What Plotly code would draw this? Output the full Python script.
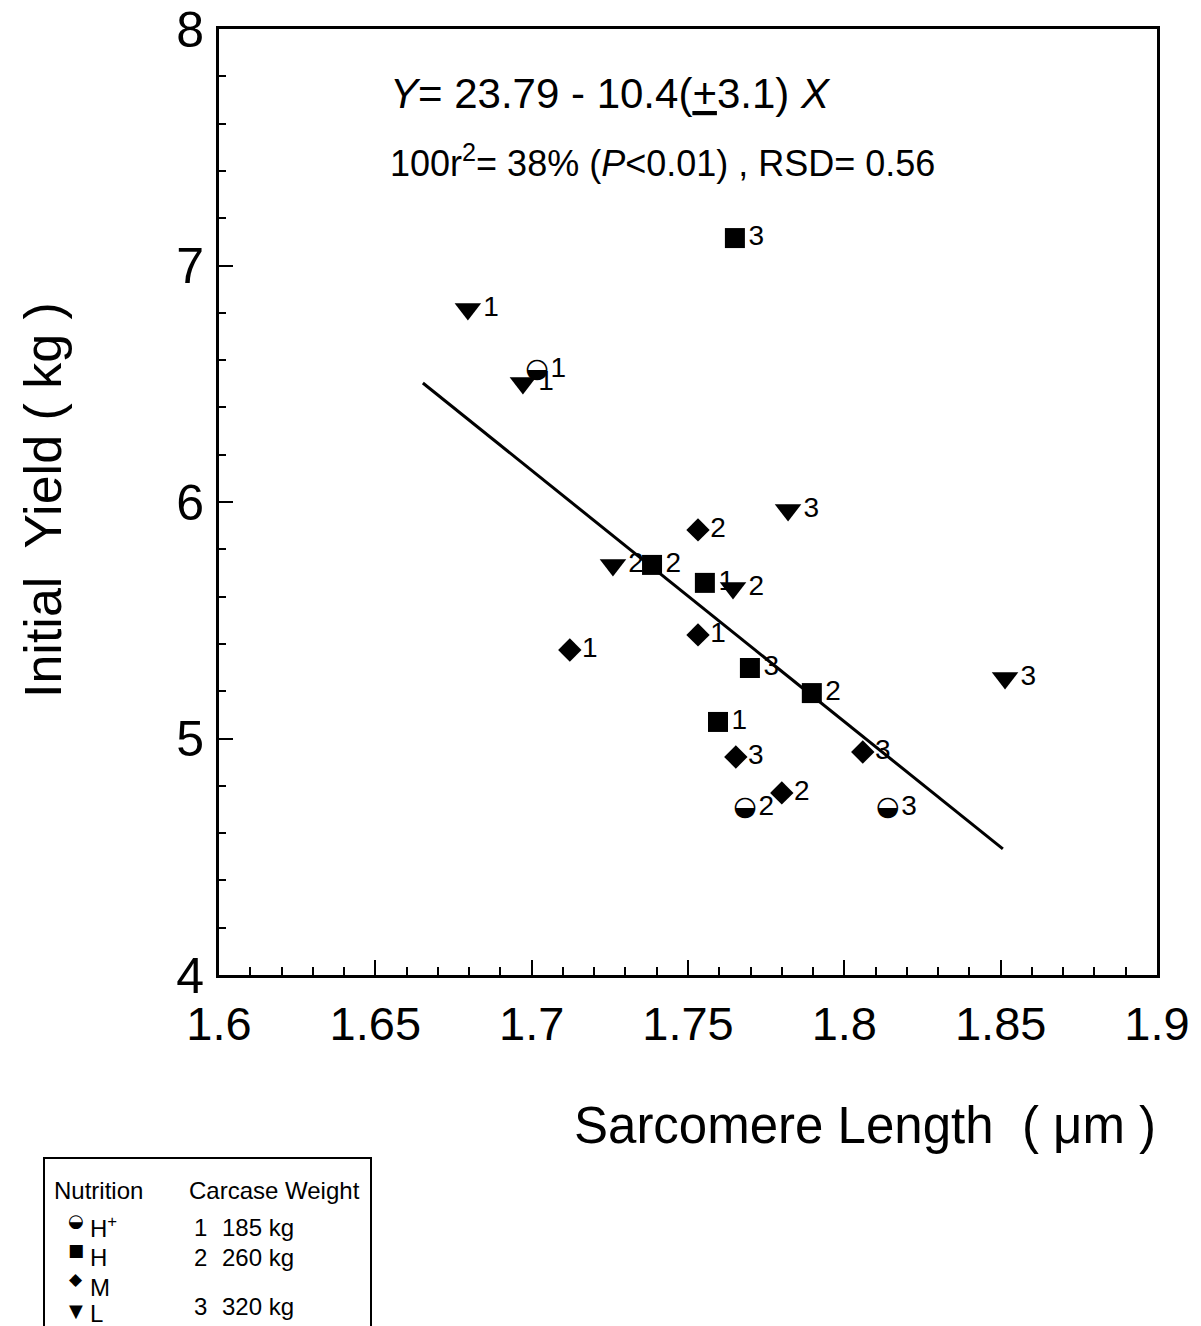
import plotly.graph_objects as go

# ---------------- data ----------------
# Nutrition H+ (half-filled circle)
hp_x = [1.7017, 1.7682, 1.8139]
hp_y = [6.558, 4.706, 4.706]
hp_w = ["1", "2", "3"]
# Nutrition H (square)
h_x = [1.7650, 1.7385, 1.7554, 1.7698, 1.7896, 1.7596]
h_y = [7.116, 5.734, 5.658, 5.298, 5.192, 5.070]
h_w = ["3", "2", "1", "3", "2", "1"]
# Nutrition M (diamond)
m_x = [1.7532, 1.7122, 1.7532, 1.7653, 1.7800, 1.8059]
m_y = [5.882, 5.374, 5.438, 4.922, 4.770, 4.943]
m_w = ["2", "1", "1", "3", "2", "3"]
# Nutrition L (down triangle)
l_x = [1.6796, 1.6972, 1.7260, 1.7644, 1.7820, 1.8514]
l_y = [6.816, 6.503, 5.734, 5.636, 5.966, 5.256]
l_w = ["1", "1", "2", "2", "3", "3"]
# regression line end points
line_x = [1.6652, 1.8507]
line_y = [6.503, 4.533]

x_ticks = [1.6, 1.65, 1.7, 1.75, 1.8, 1.85, 1.9]
x_tick_text = ["1.6", "1.65", "1.7", "1.75", "1.8", "1.85", "1.9"]
y_ticks = [4, 5, 6, 7, 8]
y_tick_text = ["4", "5", "6", "7", "8"]

legend_nutrition = ["H<sup>+</sup>", "H", "M", "L"]
legend_symbols = ["◒", "■", "◆", "▼"]
legend_weight_codes = ["1", "2", "3"]
legend_weights = ["185 kg", "260 kg", "320 kg"]

# ---------------- layout helpers ----------------
W, H = 1201, 1326
PL, PR, PT, PB = 219, 1157, 29, 975


def px(x):
    return (x - PL) / (PR - PL)


def py(y):
    return (PB - y) / (PB - PT)


SANS = "Liberation Sans, Arial, sans-serif"
SYM = "DejaVu Sans, sans-serif"

fig = go.Figure()

# regression line
fig.add_trace(go.Scatter(x=line_x, y=line_y, mode="lines",
                         line=dict(color="black", width=3), showlegend=False,
                         hoverinfo="skip"))

label_font = dict(family=SANS, size=28, color="black")

# H+ : invisible markers carrying the labels, plus glyph text
fig.add_trace(go.Scatter(x=hp_x, y=hp_y, mode="markers+text", text=hp_w,
                         textposition="middle right", textfont=label_font,
                         marker=dict(size=20, color="rgba(0,0,0,0)"),
                         showlegend=False))
fig.add_trace(go.Scatter(x=hp_x, y=hp_y, mode="text", text=["◒"] * len(hp_x),
                         textposition="middle center",
                         textfont=dict(family=SYM, size=27, color="black"),
                         showlegend=False))
# H : squares
fig.add_trace(go.Scatter(x=h_x, y=h_y, mode="markers+text", text=h_w,
                         textposition="middle right", textfont=label_font,
                         marker=dict(symbol="square", size=20, color="black"),
                         showlegend=False))
# M : diamonds
fig.add_trace(go.Scatter(x=m_x, y=m_y, mode="markers+text", text=m_w,
                         textposition="middle right", textfont=label_font,
                         marker=dict(symbol="diamond", size=18, color="black"),
                         showlegend=False))
# L : down triangles
fig.add_trace(go.Scatter(x=l_x, y=l_y, mode="markers+text", text=l_w,
                         textposition="middle right", textfont=label_font,
                         marker=dict(symbol="triangle-down", size=23, color="black"),
                         showlegend=False))

ann = []
# equation text
ann.append(dict(x=px(388), y=py(93), xref="paper", yref="paper",
                xanchor="left", yanchor="middle", showarrow=False,
                text="<i>Y</i>= 23.79 - 10.4(<u>+</u>3.1) <i>X</i>",
                font=dict(family=SANS, size=42, color="black")))
ann.append(dict(x=px(388), y=py(161), xref="paper", yref="paper",
                xanchor="left", yanchor="middle", showarrow=False,
                text="100r<sup>2</sup>= 38% (<i>P</i>&lt;0.01) , RSD= 0.56",
                font=dict(family=SANS, size=36, color="black")))
# axis titles
ann.append(dict(x=px(43), y=py(500), xref="paper", yref="paper",
                xanchor="center", yanchor="middle", showarrow=False,
                textangle=-90, text="Initial  Yield ( kg )",
                font=dict(family=SANS, size=52, color="black")))
ann.append(dict(x=px(865), y=py(1125), xref="paper", yref="paper",
                xanchor="center", yanchor="middle", showarrow=False,
                text="Sarcomere Length  ( μm )",
                font=dict(family=SANS, size=51, color="black")))

# legend box contents
lf = dict(family=SANS, size=24, color="black")
ann.append(dict(x=px(52), y=py(1190), xref="paper", yref="paper", xanchor="left",
                yanchor="middle", showarrow=False, text="Nutrition", font=lf))
ann.append(dict(x=px(187), y=py(1190), xref="paper", yref="paper", xanchor="left",
                yanchor="middle", showarrow=False, text="Carcase Weight", font=lf))
sym_y = [1220, 1250, 1279, 1310]
sym_size = [18, 17, 17, 18]
let_y = [1227, 1257, 1287, 1313]
for s, n, sy, ly, ss in zip(legend_symbols, legend_nutrition, sym_y, let_y, sym_size):
    ann.append(dict(x=px(76), y=py(sy), xref="paper", yref="paper", xanchor="center",
                    yanchor="middle", showarrow=False, text=s,
                    font=dict(family=SYM, size=ss, color="black")))
    ann.append(dict(x=px(88), y=py(ly), xref="paper", yref="paper", xanchor="left",
                    yanchor="middle", showarrow=False, text=n, font=lf))
w_y = [1227, 1257, 1306]
for c, wt, wy in zip(legend_weight_codes, legend_weights, w_y):
    ann.append(dict(x=px(192), y=py(wy), xref="paper", yref="paper", xanchor="left",
                    yanchor="middle", showarrow=False, text=c, font=lf))
    ann.append(dict(x=px(220), y=py(wy), xref="paper", yref="paper", xanchor="left",
                    yanchor="middle", showarrow=False, text=wt, font=lf))

shapes = [dict(type="rect", xref="paper", yref="paper",
               x0=px(44), x1=px(371), y0=py(1158), y1=py(1340),
               line=dict(color="black", width=2), fillcolor="rgba(0,0,0,0)")]

fig.update_layout(
    width=W, height=H,
    margin=dict(l=PL, r=W - PR, t=PT, b=H - PB, autoexpand=False),
    paper_bgcolor="white", plot_bgcolor="white",
    annotations=ann, shapes=shapes,
    xaxis=dict(range=[1.6, 1.9], tickvals=x_ticks, ticktext=x_tick_text,
               automargin=False,
               showgrid=False, zeroline=False, showline=True, linecolor="black",
               linewidth=3, mirror=True, ticks="inside", ticklen=15, tickwidth=2,
               tickcolor="black", ticklabelstandoff=6, ticklabeloverflow="allow",
               tickfont=dict(family=SANS, size=47, color="black"),
               minor=dict(dtick=0.01, tick0=1.6, ticks="inside", ticklen=8,
                          tickwidth=2, tickcolor="black", showgrid=False)),
    yaxis=dict(range=[4, 8], tickvals=y_ticks, ticktext=y_tick_text,
               automargin=False,
               showgrid=False, zeroline=False, showline=True, linecolor="black",
               linewidth=3, mirror=True, ticks="inside", ticklen=14, tickwidth=2,
               tickcolor="black", ticklabelstandoff=2, ticklabeloverflow="allow",
               tickfont=dict(family=SANS, size=50, color="black"),
               minor=dict(dtick=0.2, tick0=4, ticks="inside", ticklen=7,
                          tickwidth=2, tickcolor="black", showgrid=False)),
)

fig.write_html("out.html")
